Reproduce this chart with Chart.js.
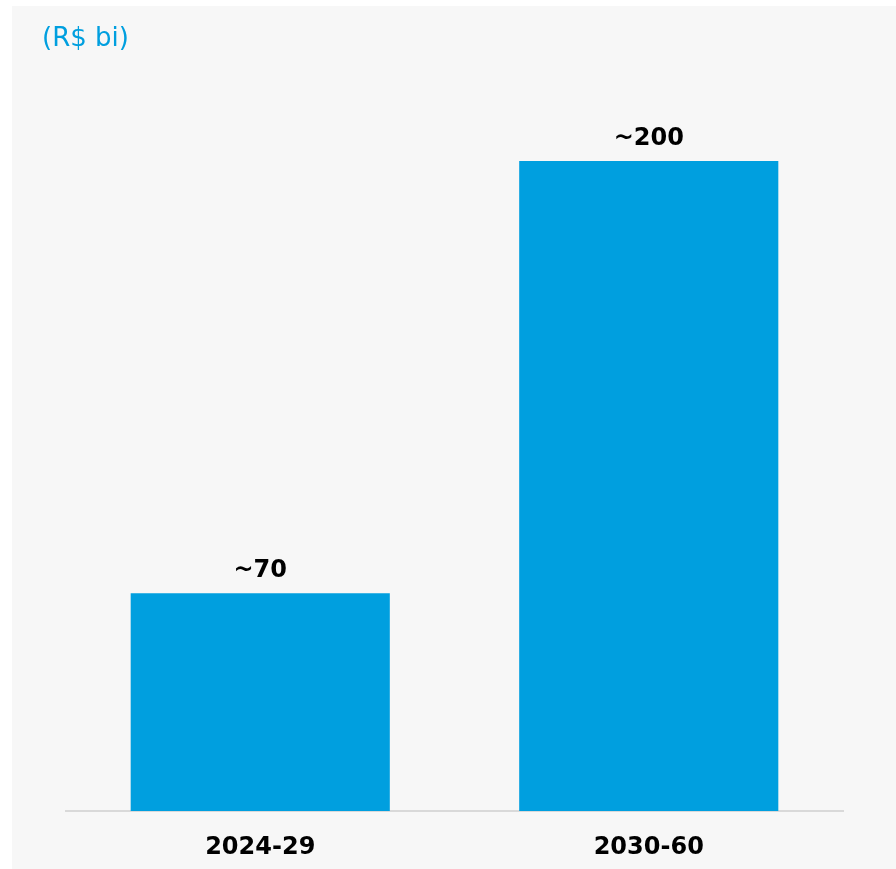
<!DOCTYPE html>
<html>
<head>
<meta charset="utf-8">
<script src="https://cdn.jsdelivr.net/npm/chart.js@4"></script>
<style>
  html, body { margin: 0; padding: 0; background: #ffffff; }
  #wrap { width: 896px; height: 869px; }
</style>
</head>
<body>
<div id="wrap"><canvas id="chart" width="896" height="869"></canvas></div>
<script>
// data
const periods = ['2024-29', '2030-60'];
const investment = [67, 200];
const valueLabels = ['~70', '~200'];
const unitLabel = '(R$ bi)';

const blue = '#009FDF';

// gray panel + unit text + labels above bars
const decorPlugin = {
    id: 'decor',
    beforeDraw(chart) {
        const ctx = chart.ctx;
        ctx.save();
        ctx.fillStyle = '#f7f7f7';
        ctx.fillRect(12, 6, chart.width - 12, chart.height - 6);
        ctx.fillStyle = blue;
        ctx.font = '26px "DejaVu Sans"';
        ctx.textBaseline = 'middle';
        ctx.textAlign = 'left';
        ctx.fillText(unitLabel, 42, 39);
        ctx.restore();
    },
    afterDatasetsDraw(chart) {
        const ctx = chart.ctx;
        const meta = chart.getDatasetMeta(0);
        ctx.save();
        ctx.fillStyle = '#000';
        ctx.font = 'bold 24px "DejaVu Sans"';
        ctx.textAlign = 'center';
        ctx.textBaseline = 'bottom';
        meta.data.forEach(function (bar, i) {
            ctx.fillText(valueLabels[i], bar.x, bar.y - 10);
        });
        ctx.restore();
    }
};

new Chart(document.getElementById('chart'), {
    type: 'bar',
    data: {
        labels: periods,
        datasets: [{
            data: investment,
            backgroundColor: blue,
            borderWidth: 0,
            barPercentage: 0.667,
            categoryPercentage: 1
        }]
    },
    options: {
        responsive: false,
        animation: false,
        layout: { padding: { left: 66, right: 53, top: 96, bottom: 0 } },
        plugins: {
            legend: { display: false },
            tooltip: { enabled: false }
        },
        scales: {
            x: {
                grid: { display: false, drawTicks: false },
                border: { display: true, color: '#d9d9d9', width: 2 },
                ticks: {
                    color: '#000',
                    padding: 22,
                    font: { family: 'DejaVu Sans', size: 24, weight: 'bold' }
                },
                afterFit(scale) { scale.height = 58; }
            },
            y: {
                display: false,
                min: 0,
                max: 220
            }
        }
    },
    plugins: [decorPlugin]
});
</script>
</body>
</html>
